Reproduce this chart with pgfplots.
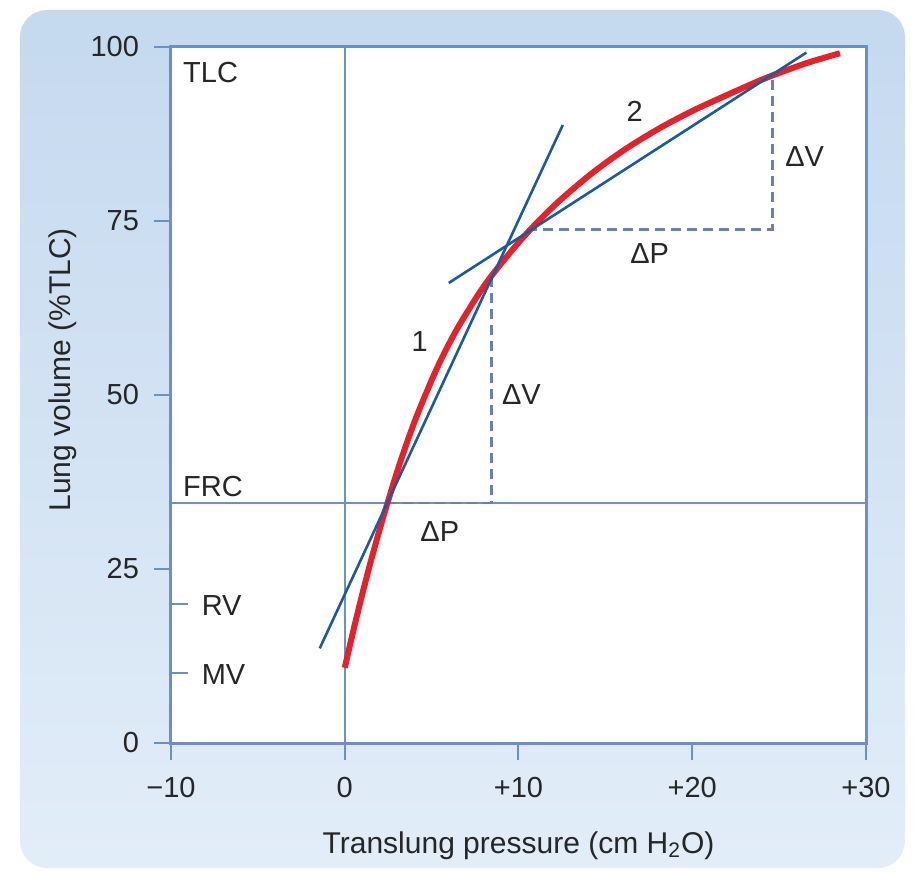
\documentclass[border=0pt]{standalone}
\usepackage{fontspec}
\setmainfont{Liberation Sans}
\usepackage{pgfplots}
\pgfplotsset{compat=1.18}
\definecolor{bgtop}{HTML}{C5D9EF}
\definecolor{bgbot}{HTML}{E2EDF8}
\definecolor{axisblue}{HTML}{6A8FCA}
\definecolor{lineblue}{HTML}{1B5A9E}
\definecolor{curvered}{HTML}{E3222B}
\definecolor{dashcol}{HTML}{6A80B2}
\begin{document}
\fontsize{14.5}{17}\selectfont
\begin{tikzpicture}
\useasboundingbox (-85.5pt,-65pt) rectangle (372.5pt,371.5pt);
\shade[top color=bgtop,bottom color=bgbot,rounded corners=13.5pt] (-75.5pt,-62.5pt) rectangle (367pt,366.5pt);
\begin{axis}[
  at={(0pt,0pt)}, anchor=south west,
  scale only axis, width=347.5pt, height=348pt,
  xmin=-10, xmax=30, ymin=0, ymax=100,
  clip=false,
  axis background/.style={fill=white},
  axis line style={draw=axisblue, line width=1.5pt},
  xtick={-10,0,10,20,30},
  xticklabels={−10,0,+10,+20,+30},
  ytick={0,25,50,75,100},
  xtick pos=bottom, ytick pos=left,
  tick align=outside,
  major tick length=8.5pt,
  tick style={draw=axisblue, line width=1pt},
  extra y ticks={10,20},
  extra y tick labels={},
  extra y tick style={tick align=inside, major tick length=8.5pt},
  /pgf/number format/assume math mode=true,
  tick label style={font=\fontsize{14.5}{17}\selectfont, text=black!85},
  xticklabel style={yshift=-3.5pt},
  yticklabel style={xshift=-2.5pt},
  label style={font=\fontsize{15}{18}\selectfont, text=black!85},
  xlabel={Translung pressure (cm H\textsubscript{2}O)},
  ylabel={Lung volume (\%TLC)},
  xlabel style={at={(axis description cs:0.5,0)}, anchor=base, yshift=-55pt},
  ylabel style={at={(axis description cs:-0.1453,0.536)}, anchor=base},
]
% reference lines
\addplot[axisblue, line width=1pt] coordinates {(0,0) (0,100)};
\addplot[axisblue, line width=1pt] coordinates {(-10,34.5) (30,34.5)};
% dashed deltas
\addplot[dashcol, line width=1.35pt, dash pattern=on 5pt off 3pt] coordinates {(2.45,34.5) (8.45,34.5) (8.45,66.7)};
\addplot[dashcol, line width=1.35pt, dash pattern=on 5pt off 3pt] coordinates {(10.5,73.8) (24.6,73.8) (24.6,96.0)};
% red curve
\addplot[curvered, line width=3pt, smooth] coordinates {
(0,10.8) (0.5,16.2) (1.0,21.3) (1.5,26.1) (2.0,30.6) (2.45,34.4) (3.2,40.4)
(4.1,46.7) (5.3,53.8) (6.4,59.2) (7.6,64.1) (8.5,67.3) (9.9,71.6) (11.0,74.6)
(12.4,78.0) (14.3,82.0) (16.2,85.4) (18.1,88.3) (20.0,90.8) (22.0,93.1)
(23.9,95.2) (24.6,95.9) (26.6,97.7) (28.5,99.1)};
% chord lines
\addplot[lineblue, line width=1.3pt] coordinates {(-1.44,13.6) (12.55,88.8)};
\addplot[lineblue, line width=1.3pt] coordinates {(5.99,66.1) (26.57,99.2)};
% labels
\node[anchor=west, inner sep=0pt, text=black!85] at (axis cs:-9.32,96.4) {TLC};
\node[anchor=west, inner sep=0pt, text=black!85] at (axis cs:-9.32,36.8) {FRC};
\node[anchor=west, inner sep=0pt, text=black!85] at (axis cs:-8.25,19.8) {RV};
\node[anchor=west, inner sep=0pt, text=black!85] at (axis cs:-8.25,9.8) {MV};
\node[inner sep=0pt, text=black!85] at (axis cs:4.32,57.7) {1};
\node[inner sep=0pt, text=black!85] at (axis cs:16.69,90.7) {2};
\node[inner sep=0pt, text=black!85] at (axis cs:10.17,50.0) {ΔV};
\node[inner sep=0pt, text=black!85] at (axis cs:5.47,30.4) {ΔP};
\node[inner sep=0pt, text=black!85] at (axis cs:26.47,84.2) {ΔV};
\node[inner sep=0pt, text=black!85] at (axis cs:17.55,70.3) {ΔP};
\end{axis}
\end{tikzpicture}
\end{document}
